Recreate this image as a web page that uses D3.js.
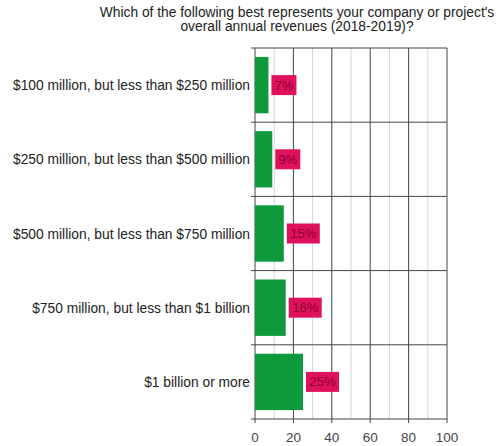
<!DOCTYPE html>
<html>
<head>
<meta charset="utf-8">
<script src="https://cdn.jsdelivr.net/npm/d3@7"></script>
<style>
  body { margin: 0; background: #fff; }
  text { font-family: "Liberation Sans", Arial, sans-serif; }
</style>
</head>
<body>
<svg id="chart" width="499" height="446"></svg>
<script>
// chart data
var categories = [
    "$100 million, but less than $250 million",
    "$250 million, but less than $500 million",
    "$500 million, but less than $750 million",
    "$750 million, but less than $1 billion",
    "$1 billion or more"
];
var values = [7, 9, 15, 16, 25];
var xTicks = [0, 20, 40, 60, 80, 100];
var xMinorTicks = [10, 30, 50, 70, 90];
var titleLines = [
    "Which of the following best represents your company or project's",
    "overall annual revenues (2018-2019)?"
];

var svg = d3.select("#chart");

// plot area (window.top is reserved, so no plain "top")
var plotLeft = 255, plotRight = 447, plotTop = 48, plotBottom = 419;

var x = d3.scaleLinear().domain([0, 100]).range([plotLeft, plotRight]);
var y = d3.scaleBand().domain(categories).range([plotTop, plotBottom])
    .paddingInner(0.24).paddingOuter(0.12);
var yEdge = d3.scaleLinear().domain([0, categories.length]).range([plotTop, plotBottom]);

// title
svg.append("g").selectAll("text")
    .data(titleLines)
    .enter().append("text")
    .attr("x", 297)
    .attr("y", function(d, i) { return 17 + i * 14; })
    .attr("text-anchor", "middle")
    .attr("font-size", 13.8)
    .attr("fill", "#222")
    .text(function(d) { return d; });

// minor grid lines
svg.append("g").selectAll("line")
    .data(xMinorTicks)
    .enter().append("line")
    .attr("x1", x).attr("x2", x)
    .attr("y1", plotTop).attr("y2", plotBottom)
    .attr("stroke", "#d4d4d4")
    .attr("stroke-width", 1);

// major grid lines
svg.append("g").selectAll("line")
    .data(xTicks)
    .enter().append("line")
    .attr("x1", x).attr("x2", x)
    .attr("y1", plotTop).attr("y2", plotBottom + 4)
    .attr("stroke", "#444")
    .attr("stroke-width", 1);

// horizontal category separators
svg.append("g").selectAll("line")
    .data(d3.range(categories.length + 1))
    .enter().append("line")
    .attr("x1", plotLeft - 4).attr("x2", plotRight)
    .attr("y1", yEdge).attr("y2", yEdge)
    .attr("stroke", "#444")
    .attr("stroke-width", 1);

// bars
svg.append("g").selectAll("rect")
    .data(values)
    .enter().append("rect")
    .attr("x", x(0))
    .attr("y", function(d, i) { return y(categories[i]); })
    .attr("width", function(d) { return x(d) - x(0); })
    .attr("height", y.bandwidth())
    .attr("fill", "#0e9a3c");

// value labels
var labels = svg.append("g").selectAll("g")
    .data(values)
    .enter().append("g")
    .attr("transform", function(d, i) {
        return "translate(" + (x(d) + 3) + "," + (y(categories[i]) + y.bandwidth() / 2) + ")";
    });

labels.append("rect")
    .attr("x", 0)
    .attr("y", -10)
    .attr("width", function(d) { return d < 10 ? 25 : 33; })
    .attr("height", 20)
    .attr("fill", "#e0115c");

labels.append("text")
    .attr("x", function(d) { return d < 10 ? 12.5 : 16.5; })
    .attr("y", 4.5)
    .attr("text-anchor", "middle")
    .attr("font-size", 13)
    .attr("fill", "#8a0036")
    .text(function(d) { return d + "%"; });

// category labels
svg.append("g").selectAll("text")
    .data(categories)
    .enter().append("text")
    .attr("x", 250)
    .attr("y", function(d) { return y(d) + y.bandwidth() / 2 + 5; })
    .attr("text-anchor", "end")
    .attr("font-size", 13.8)
    .attr("fill", "#222")
    .text(function(d) { return d; });

// x tick labels
svg.append("g").selectAll("text")
    .data(xTicks)
    .enter().append("text")
    .attr("x", x)
    .attr("y", 442)
    .attr("text-anchor", "middle")
    .attr("font-size", 13.5)
    .attr("fill", "#444")
    .text(function(d) { return d; });
</script>
</body>
</html>
